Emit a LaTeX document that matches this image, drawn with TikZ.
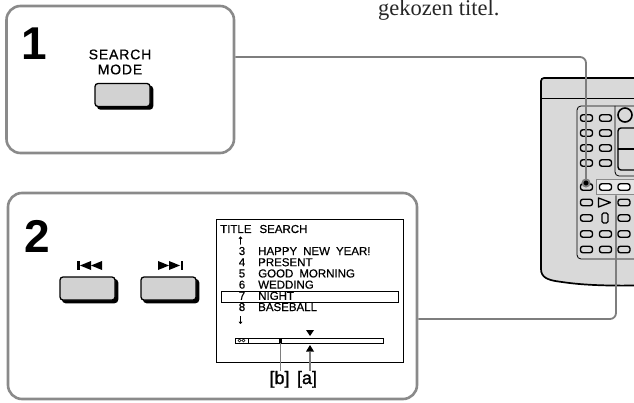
\documentclass[tikz,border=0pt]{standalone}
\usepackage{fontspec}
\setmainfont{Liberation Sans}
\newfontfamily\bookfont{Liberation Serif}
\usetikzlibrary{shadows}
\definecolor{rim}{HTML}{8A8A8A}
\definecolor{wire}{HTML}{7E7E7E}
\definecolor{keygray}{HTML}{D2D2D2}
\definecolor{shell}{HTML}{D9D9D9}
\definecolor{hilite}{HTML}{E4E4E4}
\newcommand\osdfont{\fontsize{11.5}{12}\selectfont\addfontfeature{FakeBold=0.6}\spaceskip=6pt\relax}

\begin{document}
\begin{tikzpicture}[x=1pt,y=-1pt,
  panel/.style={draw=rim,line width=2.6pt,rounded corners=14pt,inner sep=0pt},
  bignum/.style={font=\fontsize{46}{46}\selectfont\bfseries,inner sep=0pt,anchor=base},
  key/.style={draw,line width=1.3pt,fill=keygray,rounded corners=3pt,inner sep=0pt,minimum width=55pt,minimum height=23pt,
    copy shadow={shadow xshift=2.6pt,shadow yshift=-2.6pt,fill=black,draw=black,line width=1.3pt}},
  osd/.style={font=\osdfont,inner sep=0pt,anchor=base west},
  updown/.style={inner sep=0pt,anchor=center,font=\fontsize{13}{13}\selectfont\addfontfeature{FakeBold=1}},
  rkey/.style={draw,line width=1.4pt,fill=shell,rounded corners=2.4pt,inner sep=0pt,minimum width=12pt,minimum height=6.5pt},
  wire/.style={draw=wire,line width=1.8pt,rounded corners=6pt}]
\useasboundingbox (0,0) rectangle (634,403);

\node[anchor=base west,inner sep=0pt,text=black!85,font=\bookfont\fontsize{22.5}{22.5}\selectfont] (caption) at (378,15.5) {gekozen titel.};

% step 1
\node[panel,minimum width=227.5pt,minimum height=147pt] (stepone) at (120.25,79.5) {};
\node[bignum] (numone) at (34,60) {1};
\node[align=center,inner sep=0pt,font=\fontsize{14}{15}\selectfont\addfontfeature{LetterSpace=6,FakeBold=0.6}] (modelabel) at (120,62) {SEARCH\\MODE};
\node[key] (modekey) at (122.5,95) {};

% step 2
\node[panel,minimum width=409pt,minimum height=206pt] (steptwo) at (212.5,296) {};
\node[bignum] (numtwo) at (37.5,252) {2};
\node[key] (prevkey) at (87.5,288.5) {};
\node[key] (nextkey) at (168.5,288.5) {};
\fill (77,261) rectangle (79.5,270);\fill (80,265.5)--(91,261)--(91,270)--cycle;\fill (91,265.5)--(102,261)--(102,270)--cycle;
\fill (158,261)--(169,265.5)--(158,270)--cycle;\fill (169,261)--(180,265.5)--(169,270)--cycle;\fill (180.5,261) rectangle (183,270);

% title search screen
\node[draw,line width=0.9pt,inner sep=0pt,minimum width=187pt,minimum height=143pt] (screen) at (309.5,290.5) {};
\node[osd] (head) at (220,233) {TITLE\hspace{8pt}SEARCH};
\node[updown] (up) at (240.5,240.5) {↑};
\foreach \n/\t [count=\i] in {3/HAPPY NEW YEAR!,4/PRESENT,5/GOOD MORNING,6/WEDDING,7/NIGHT,8/BASEBALL}{
  \node[osd,anchor=base] (no\n) at (242,243.8+11.2*\i) {\n};
  \node[osd] (ti\n) at (258,243.8+11.2*\i) {\t};
}
\node[updown] (down) at (240.5,320) {↓};
\node[draw,line width=0.9pt,inner sep=0pt,minimum width=177pt,minimum height=11pt] (cursor) at (309.5,296.5) {};
% tape counter bar
\node[draw,line width=0.8pt,inner sep=0pt,minimum width=148pt,minimum height=5pt] (bar) at (309,340.5) {};
\draw[line width=0.6pt] (235,338) rectangle (248,343);
\draw[line width=0.5pt] (239.5,340.5) circle (1.5pt) (243.5,340.5) circle (1.5pt);
\node[fill,inner sep=0pt,minimum width=3pt,minimum height=5pt] (bmark) at (280.5,340.5) {};
\fill (306,330)--(314,330)--(310,336)--cycle;
\fill (310,345)--(314,351.5)--(306,351.5)--cycle;
\coordinate (amark) at (310,352);
\node[inner sep=0pt,anchor=base,font=\fontsize{18}{18}\selectfont\addfontfeature{FakeBold=1.2}] (labb) at (279.5,384) {[b]};
\node[inner sep=0pt,anchor=base,font=\fontsize{18}{18}\selectfont\addfontfeature{FakeBold=1.2}] (laba) at (307,384) {[a]};
\draw[draw=wire,line width=1.4pt] (bmark.south) -- (bmark.south |- labb.north);
\draw[draw=wire,line width=1.4pt] (amark) -- (amark |- laba.north);

% remote commander
\filldraw[fill=shell,line width=1.7pt,rounded corners=3pt] (650,78)--(541,78)--(541,266) .. controls (541,277) and (547,280) .. (562,282) .. controls (590,286) and (625,286) .. (650,285)--cycle;
\draw[line width=0.8pt] (541,98)--(650,98);
\draw[line width=0.8pt,rounded corners=4pt] (577,106) rectangle (650,259);
\draw[line width=0.8pt,rounded corners=4pt] (615,106)--(615,176)--(650,176);
\draw[line width=1.6pt] (625,115) circle (7pt);
\draw[line width=1.4pt,rounded corners=3pt] (618,128) rectangle (650,170);
\draw[line width=1.2pt] (618,149)--(650,149);
\foreach \r/\y in {1/118,2/133,3/148,4/163}{
  \node[rkey] (ka\r) at (586.5,\y) {};
  \node[rkey] (kb\r) at (605.5,\y) {};
}
\node[draw=rim,fill=hilite,line width=1pt,inner sep=0pt,minimum width=49pt,minimum height=15pt] (jumpkeys) at (620.5,187.5) {};
\node[rkey] (ka5) at (586.5,187) {};
\node[rkey,fill=white] (kb5) at (605.5,187) {};
\node[rkey,fill=white] (kc5) at (624,187) {};
\foreach \r/\y in {6/202.5,7/218,8/234,9/249.5}{
  \node[rkey] (ka\r) at (586.5,\y) {};
  \node[rkey] (kc\r) at (624,\y) {};
}
\foreach \r/\y in {8/234,9/249.5} \node[rkey] (kb\r) at (605.5,\y) {};
\draw[line width=1.3pt,fill=shell,line join=round] (598.5,198)--(610.5,202.5)--(598.5,207)--cycle;
\draw[line width=1.3pt,fill=shell,rounded corners=1.5pt] (602,213) rectangle (608,223);
\coordinate (selkey) at (586,183);

% leader lines
\draw[wire] ([yshift=22.5pt]stepone.east) -| (selkey);
\fill[wire] (selkey) circle (3.6pt);
\draw[wire] ([yshift=-23pt]steptwo.east) -| ([xshift=-4.5pt]jumpkeys.south);
\end{tikzpicture}
\end{document}
